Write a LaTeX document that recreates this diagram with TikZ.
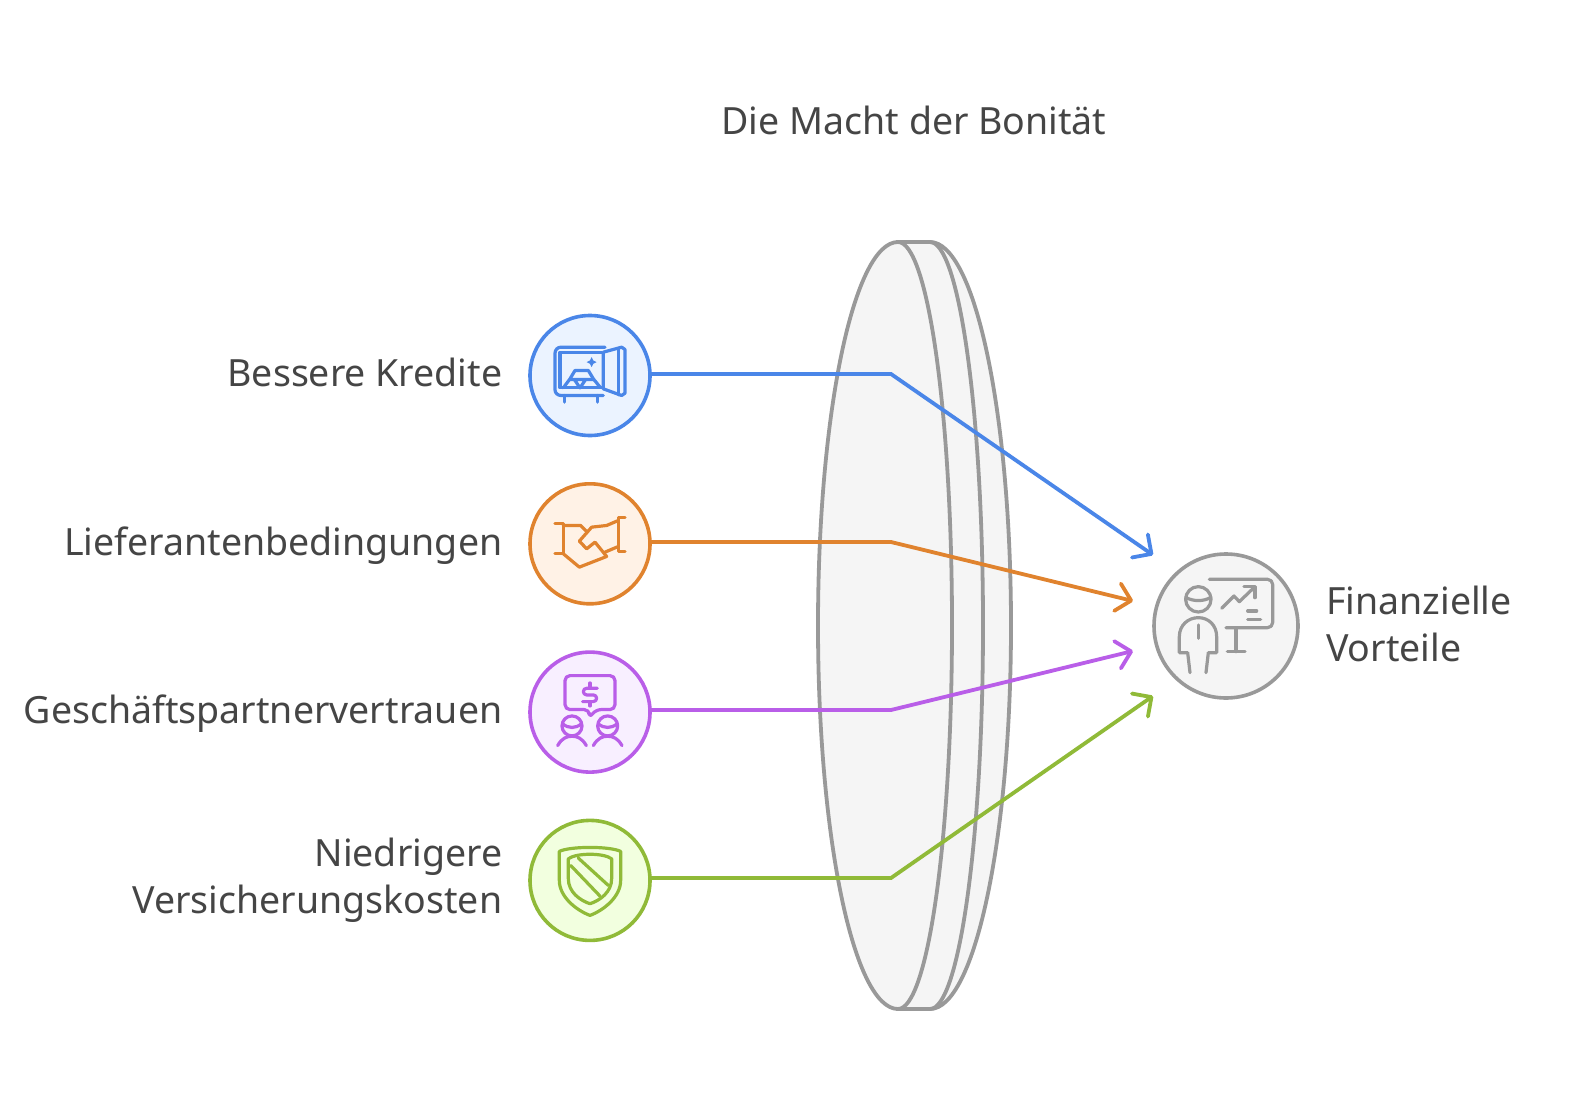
\documentclass[tikz,border=0pt]{standalone}
\usepackage{fontspec}
\setmainfont{Noto Sans}
\definecolor{textgrey}{HTML}{454545}
\definecolor{lensgrey}{HTML}{999999}
\definecolor{lensfill}{HTML}{F5F5F5}
\definecolor{creditblue}{HTML}{4A86E8}
\definecolor{creditfill}{HTML}{EBF3FF}
\definecolor{supplyorange}{HTML}{E0832E}
\definecolor{supplyfill}{HTML}{FFF2E6}
\definecolor{trustpurple}{HTML}{B95EE8}
\definecolor{trustfill}{HTML}{F8EFFF}
\definecolor{insurancegreen}{HTML}{90BA38}
\definecolor{insurancefill}{HTML}{F2FFDF}
\usetikzlibrary{positioning,arrows.meta}

\begin{document}
\begin{tikzpicture}[
            x=1pt, y=-1pt,
            label/.style={text=textgrey, font=\fontsize{37.5}{47.5}\selectfont, inner sep=0pt},
            oneline/.style={label, text height=30.6pt, text depth=8pt},
            iconcircle/.style={
                circle, line width=3.6pt, outer sep=0pt, inner sep=0pt,
                minimum size=120pt
            },
            connector/.style={line width=3.8pt, -{Straight Barb[length=14pt,width=28pt,round]}},
            lens/.style={line width=3.8pt, draw=lensgrey, fill=lensfill},
            icon/.style={x=0.3333pt, y=-0.3333pt, line width=3.2pt, line cap=round, line join=round},
        ]
            \useasboundingbox (0,0) rectangle (1588,1108);

            % lens
            \path[lens] (898,242) -- (930,242) arc[start angle=90, end angle=-90, x radius=81pt, y radius=383.5pt] -- (898,1009) -- cycle;
            \draw[lens, fill=none] (930,242) arc[start angle=90, end angle=-90, x radius=53pt, y radius=383.5pt];
            \path[lens] (898,242) arc[start angle=90, end angle=-90, x radius=54pt, y radius=383.5pt]
                arc[start angle=270, end angle=90, x radius=80pt, y radius=383.5pt] -- cycle;

            \node [label] (title) at (914,120) {Die Macht der Bonit\"at};

            \node [iconcircle, draw=creditblue, fill=creditfill] (kredite) at (590,375.5) {};
            \node [iconcircle, draw=supplyorange, fill=supplyfill] (lieferanten) [ below= 48.3pt of kredite ] {};
            \node [iconcircle, draw=trustpurple, fill=trustfill] (partner) [ below= 48.3pt of lieferanten ] {};
            \node [iconcircle, draw=insurancegreen, fill=insurancefill] (versicherung) [ below= 48.3pt of partner ] {};
            \node [iconcircle, draw=lensgrey, fill=lensfill, minimum size=144pt] (vorteile) at (1226,626) {};

            \node [oneline, anchor=east] (kredite-text) [ left= 27.5pt of kredite ] {Bessere Kredite};
            \node [oneline, anchor=east] (lieferanten-text) [ left= 27.5pt of lieferanten ] {Lieferantenbedingungen};
            \node [oneline, anchor=east] (partner-text) [ left= 27.5pt of partner ] {Gesch\"aftspartnervertrauen};
            \node [label, anchor=east, align=right] (versicherung-text) [ left= 27.5pt of versicherung ] {Niedrigere\\Versicherungskosten};
            \node [label, anchor=west, align=left, yshift=2pt] (vorteile-text) [ right= 28pt of vorteile ] {Finanzielle\\Vorteile};

            \coordinate (kredite-bend) at (891,374);
            \coordinate (lieferanten-bend) at (891,542);
            \coordinate (partner-bend) at (891,710);
            \coordinate (versicherung-bend) at (891,878);
            \coordinate (kredite-tip) at (1153,555);
            \coordinate (lieferanten-tip) at (1133,601);
            \coordinate (partner-tip) at (1133,651);
            \coordinate (versicherung-tip) at (1153,696);

            \draw[connector, creditblue] (kredite.east |- kredite-bend) -- (kredite-bend) -- (kredite-tip);
            \draw[connector, supplyorange] (lieferanten.east |- lieferanten-bend) -- (lieferanten-bend) -- (lieferanten-tip);
            \draw[connector, trustpurple] (partner.east |- partner-bend) -- (partner-bend) -- (partner-tip);
            \draw[connector, insurancegreen] (versicherung.east |- versicherung-bend) -- (versicherung-bend) -- (versicherung-tip);

            % safe
            \begin{scope}[shift={(kredite)}, icon, draw=creditblue, xshift=-80pt, yshift=75pt]
                \draw (285,140) -- (153,140) to[out=180,in=90] (135,158) -- (135,268) to[out=-90,in=180] (153,285) -- (280,285);
                \draw (275,155) -- (150,155) -- (150,262) -- (275,262);
                \draw (280,155) -- (335,140) -- (345,147) -- (345,278) -- (335,285) -- (280,265) -- cycle;
                \draw (325,145) -- (325,283);
                \draw (163,285) -- (163,305) (262,285) -- (262,305);
                \draw (160,262) -- (180,235) -- (195,210) -- (235,210) -- (250,235) -- (272,262);
                \draw (180,237) -- (250,237) (195,240) -- (210,262) -- (225,240);
                \fill[creditblue] (245,170) -- (250,180) -- (260,185) -- (250,190) -- (245,200) -- (240,190) -- (230,185) -- (240,180) -- cycle;
            \end{scope}

            % handshake
            \begin{scope}[shift={(lieferanten)}, icon, draw=supplyorange, xshift=-80pt, yshift=243.3pt]
                \draw (135,668) -- (160,668) -- (160,760) -- (135,760);
                \draw (345,652) -- (325,652) -- (325,752) -- (345,752);
                \draw (160,675) -- (212,675) -- (232,695);
                \draw (160,760) -- (208,800) -- (290,768) -- (255,725) -- (230,745) -- (208,722) -- (245,680) -- (290,675) -- (325,660);
                \draw (325,738) -- (285,755);
            \end{scope}

            % speech bubble with two people
            \begin{scope}[shift={(partner)}, icon, draw=trustpurple, xshift=-80pt, yshift=71.5pt]
                \draw[rounded corners=5pt] (238,207) -- (165,207) -- (165,105) -- (315,105) -- (315,207) -- (258,207) -- (238,232) -- cycle;
                \draw (262,143) -- (230,143) arc[start angle=90, end angle=270, radius=10pt/3] -- (250,163) arc[start angle=90, end angle=-90, radius=10pt/3] -- (218,183);
                \draw (240,127) -- (240,140) (240,186) -- (240,196);
                \foreach \headx in {186,293} {
                    \draw (\headx,256) circle[radius=10pt];
                    \draw (\headx-28,250) .. controls (\headx-10,264) and (\headx+10,264) .. (\headx+28,250);
                    \draw (\headx-43,315) .. controls (\headx-30,292) and (\headx-15,287) .. (\headx,287) .. controls (\headx+15,287) and (\headx+30,292) .. (\headx+43,315);
                }
            \end{scope}

            % shield
            \begin{scope}[shift={(versicherung)}, icon, draw=insurancegreen, xshift=-80pt, yshift=238.3pt]
                \draw (148,628) .. controls (180,612) and (300,612) .. (332,628) -- (332,715) .. controls (332,765) and (280,805) .. (240,820) .. controls (200,805) and (148,765) .. (148,715) -- cycle;
                \draw (175,650) .. controls (200,632) and (280,632) .. (305,650) -- (305,710) .. controls (305,750) and (270,775) .. (240,785) .. controls (210,775) and (175,750) .. (175,710) -- cycle;
                \draw (205,648) -- (295,730) (182,670) -- (270,762);
            \end{scope}

            % presenter
            \begin{scope}[shift={(vorteile)}, icon, draw=lensgrey, xshift=-106pt, yshift=106pt]
                \draw (235,238) circle[radius=12.7pt];
                \draw (197,232) .. controls (220,245) and (250,245) .. (273,232);
                \draw (210,458) -- (203,398) -- (178,398) -- (178,350) .. controls (178,315) and (205,293) .. (235,293) .. controls (265,293) and (290,315) .. (290,350) -- (290,398) -- (265,398) -- (258,458);
                \draw (235,315) -- (235,355);
                \draw[rounded corners=5pt] (268,178) -- (458,178) -- (458,323) -- (318,323);
                \draw (348,323) -- (348,395) (322,395) -- (375,395);
                \draw (305,265) -- (342,228) -- (358,245) -- (405,200);
                \draw (372,200) -- (405,200) -- (405,233);
                \draw (383,273) -- (410,273) (383,298) -- (422,298);
            \end{scope}

\end{tikzpicture}
\end{document}
